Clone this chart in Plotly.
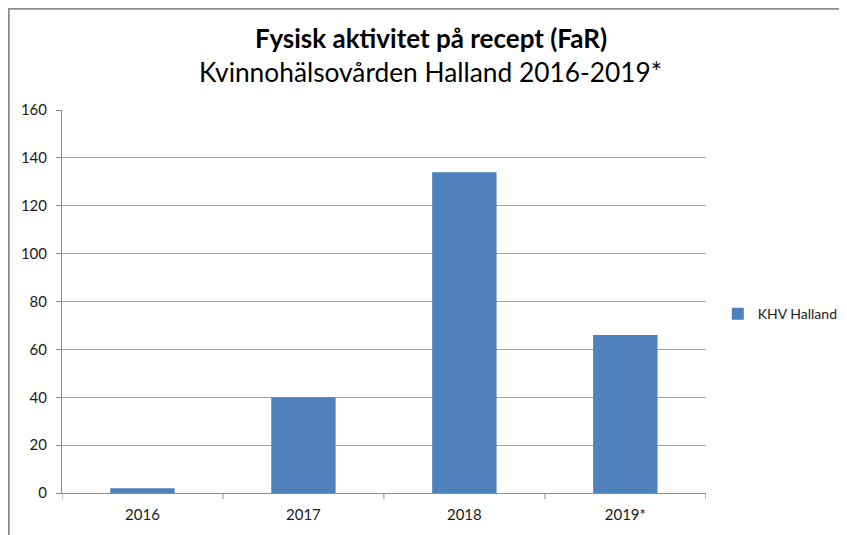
import plotly.graph_objects as go

categories = ["2016", "2017", "2018", "2019*"]
values = [2, 40, 134, 66]
series_name = "KHV Halland"
title_main = "Fysisk aktivitet på recept (FaR)"
title_sub = "Kvinnohälsovården Halland 2016-2019*"
y_ticks = [0, 20, 40, 60, 80, 100, 120, 140, 160]

FONT = "Lato, Open Sans, sans-serif"

fig = go.Figure()
fig.add_trace(go.Bar(
    x=categories, y=values, name=series_name,
    marker=dict(color="#4F81BD", line=dict(width=0)),
    width=0.4, showlegend=True,
))

fig.update_layout(
    width=839, height=527,
    margin=dict(l=54, r=138, t=102, b=41),
    paper_bgcolor="white", plot_bgcolor="white",
    font=dict(family=FONT, size=15, color="#1a1a1a"),
    showlegend=True,
    legend=dict(xref="container", yref="container", x=0.846, y=0.419,
                xanchor="left", yanchor="middle",
                font=dict(size=14, family=FONT), itemwidth=30,
                bgcolor="rgba(0,0,0,0)"),
    xaxis=dict(
        showgrid=False, showline=True, linecolor="#8c8c8c", linewidth=1,
        ticks="", tickfont=dict(size=15), ticklabelstandoff=8,
        range=[-0.5, 3.5],
    ),
    yaxis=dict(
        range=[0, 160], tickvals=y_ticks, showgrid=True, gridcolor="#a0a0a0",
        gridwidth=1, showline=True, linecolor="#8c8c8c", linewidth=1,
        ticks="outside", ticklen=5, tickcolor="#8c8c8c",
        tickfont=dict(size=15), zeroline=False, ticklabelstandoff=6,
    ),
    annotations=[
        dict(text="<b>" + title_main + "</b>", xref="paper", yref="paper",
             x=0.573, y=1.1875, showarrow=False, xanchor="center", yanchor="middle",
             font=dict(size=26, family=FONT, color="#000")),
        dict(text=title_sub, xref="paper", yref="paper",
             x=0.573, y=1.099, showarrow=False, xanchor="center", yanchor="middle",
             font=dict(size=26.3, family=FONT, color="#000")),
    ],
    shapes=[
        dict(type="rect", xref="paper", yref="paper",
             x0=-0.0827, x1=1.3, y0=-0.3, y1=1.2643,
             line=dict(color="#8c8c8c", width=2), fillcolor="rgba(0,0,0,0)", layer="below"),
    ] + [
        dict(type="line", xref="x", yref="paper", x0=i - 0.5, x1=i - 0.5,
             y0=0, y1=-0.016, line=dict(color="#8c8c8c", width=1))
        for i in range(len(categories) + 1)
    ],
)

fig.write_html("out.html")
